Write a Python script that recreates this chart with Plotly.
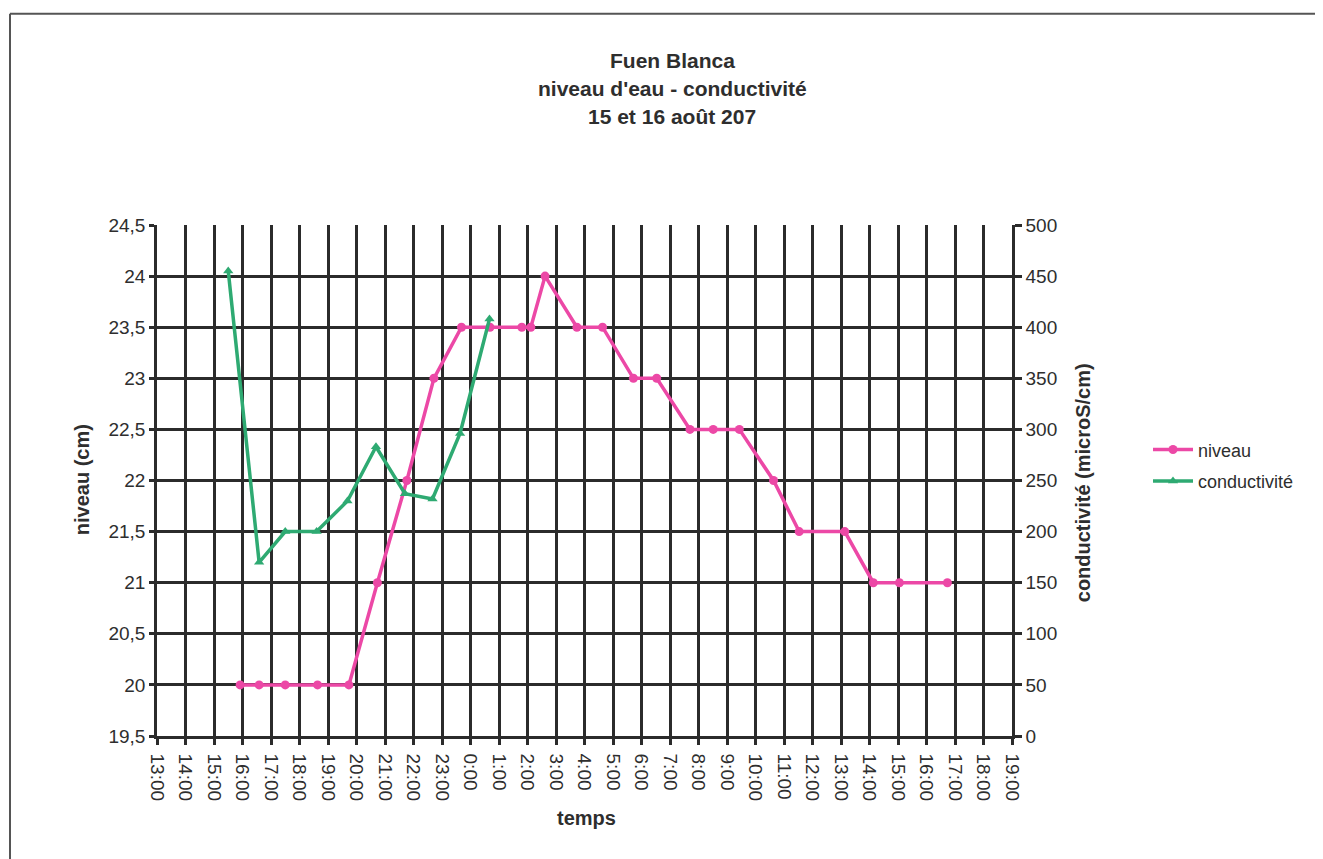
import plotly.graph_objects as go
import pandas as pd

# ---- data ----
niveau_time = [
    "2007-08-15 15:55", "2007-08-15 16:35", "2007-08-15 17:30", "2007-08-15 18:38",
    "2007-08-15 19:44", "2007-08-15 20:44", "2007-08-15 21:46", "2007-08-15 22:43",
    "2007-08-15 23:41", "2007-08-16 00:41", "2007-08-16 01:48", "2007-08-16 02:07",
    "2007-08-16 02:37", "2007-08-16 03:44", "2007-08-16 04:38", "2007-08-16 05:43",
    "2007-08-16 06:32", "2007-08-16 07:42", "2007-08-16 08:31", "2007-08-16 09:26",
    "2007-08-16 10:38", "2007-08-16 11:32", "2007-08-16 13:08", "2007-08-16 14:08",
    "2007-08-16 15:03", "2007-08-16 16:44",
]
niveau_cm = [20, 20, 20, 20, 20, 21, 22, 23, 23.5, 23.5, 23.5, 23.5, 24, 23.5, 23.5,
             23, 23, 22.5, 22.5, 22.5, 22, 21.5, 21.5, 21, 21, 21]

cond_time = [
    "2007-08-15 15:30", "2007-08-15 16:35", "2007-08-15 17:30", "2007-08-15 18:36",
    "2007-08-15 19:41", "2007-08-15 20:41", "2007-08-15 21:42", "2007-08-15 22:40",
    "2007-08-15 23:38", "2007-08-16 00:40",
]
cond_us = [455, 170, 200, 200, 230, 283, 237, 232, 296, 408]

hour_labels = ["13:00", "14:00", "15:00", "16:00", "17:00", "18:00", "19:00", "20:00",
               "21:00", "22:00", "23:00", "0:00", "1:00", "2:00", "3:00", "4:00",
               "5:00", "6:00", "7:00", "8:00", "9:00", "10:00", "11:00", "12:00",
               "13:00", "14:00", "15:00", "16:00", "17:00", "18:00", "19:00"]

title_lines = ["Fuen Blanca", "niveau d'eau - conductivité", "15 et 16 août 207"]

# ---- layout geometry (reference pixel coords; page body adds an 8px offset) ----
OFF = 8
W, H = 1323 - OFF, 859 - OFF
L, R, T, B = 157, 1012, 224.5, 736
FONT = "Arial, Liberation Sans, sans-serif"
GRID = "#2b2b2b"
TXT = "#2e2e2e"
PINK = "#EC48A6"
GREEN = "#2EAA72"

tick_times = pd.date_range("2007-08-15 13:00", periods=len(hour_labels), freq="h")


def px(x):
    return (x - L) / (R - L)


def py(y):
    return (B - y) / (B - T)


fig = go.Figure()
fig.add_trace(go.Scatter(
    x=pd.to_datetime(niveau_time), y=niveau_cm, name="niveau", mode="lines+markers",
    line=dict(color=PINK, width=3.5), marker=dict(symbol="circle", size=9, color=PINK),
    yaxis="y", legendgroup="a",
))
fig.add_trace(go.Scatter(
    x=pd.to_datetime(cond_time), y=cond_us, name="conductivité", mode="lines+markers",
    line=dict(color=GREEN, width=3.5), marker=dict(symbol="triangle-up", size=9, color=GREEN),
    yaxis="y2", legendgroup="b",
))

annotations = []
for txt, yy in zip(title_lines, [60, 88, 116]):
    annotations.append(dict(text="<b>%s</b>" % txt, x=px(672), y=py(yy), xref="paper",
                            yref="paper", showarrow=False, xanchor="center",
                            yanchor="middle", font=dict(size=21, color=TXT, family=FONT)))
annotations.append(dict(text="<b>temps</b>", x=px(586), y=py(818), xref="paper", yref="paper",
                        showarrow=False, xanchor="center", yanchor="middle",
                        font=dict(size=20, color=TXT, family=FONT)))
annotations.append(dict(text="<b>niveau (cm)</b>", x=px(82), y=py(480), xref="paper",
                        yref="paper", showarrow=False, textangle=-90, xanchor="center",
                        yanchor="middle", font=dict(size=20, color=TXT, family=FONT)))
annotations.append(dict(text="<b>conductivité (microS/cm)</b>", x=px(1083), y=py(483),
                        xref="paper", yref="paper", showarrow=False, textangle=-90,
                        xanchor="center", yanchor="middle",
                        font=dict(size=20, color=TXT, family=FONT)))

shapes = [
    dict(type="line", xref="paper", yref="paper", x0=px(10), x1=px(10), y0=py(13), y1=py(870),
         line=dict(color="#555", width=2)),
    dict(type="line", xref="paper", yref="paper", x0=px(10), x1=px(1340), y0=py(13), y1=py(13),
         line=dict(color="#555", width=2)),
]

fig.update_layout(
    width=W, height=H,
    margin=dict(l=L - OFF, r=W - (R - OFF), t=T - OFF, b=H - (B - OFF), autoexpand=False),
    paper_bgcolor="white", plot_bgcolor="white",
    separators=", ",
    font=dict(family=FONT, size=19, color=TXT),
    showlegend=True,
    legend=dict(x=px(1148), y=py(431), xanchor="left", yanchor="top", xref="paper",
                yref="paper", font=dict(size=18, color=TXT, family=FONT),
                bgcolor="rgba(0,0,0,0)", tracegroupgap=5, itemwidth=40),
    xaxis=dict(
        type="date",
        range=[tick_times[0], tick_times[-1]],
        tickmode="array", tickvals=tick_times, ticktext=hour_labels,
        tickangle=90, ticks="outside", ticklen=6, tickwidth=2.5, tickcolor=GRID,
        ticklabelstandoff=5,
        showgrid=True, gridcolor=GRID, gridwidth=2.5,
        showline=True, linecolor=GRID, linewidth=2.5, zeroline=False,
        tickfont=dict(size=19, color=TXT),
    ),
    yaxis=dict(
        range=[19.5, 24.5], dtick=0.5, tick0=19.5,
        ticks="outside", ticklen=5, tickwidth=2.5, tickcolor=GRID,
        showgrid=True, gridcolor=GRID, gridwidth=2.5,
        showline=True, linecolor=GRID, linewidth=2.5, zeroline=False,
        tickfont=dict(size=19, color=TXT),
    ),
    yaxis2=dict(
        range=[0, 500], dtick=50, tick0=0, overlaying="y", side="right",
        ticks="outside", ticklen=7, tickwidth=2.5, tickcolor=GRID,
        showgrid=False, showline=True, linecolor=GRID, linewidth=2.5, zeroline=False,
        tickfont=dict(size=19, color=TXT),
    ),
    annotations=annotations,
    shapes=shapes,
)

fig.write_html("out.html")
